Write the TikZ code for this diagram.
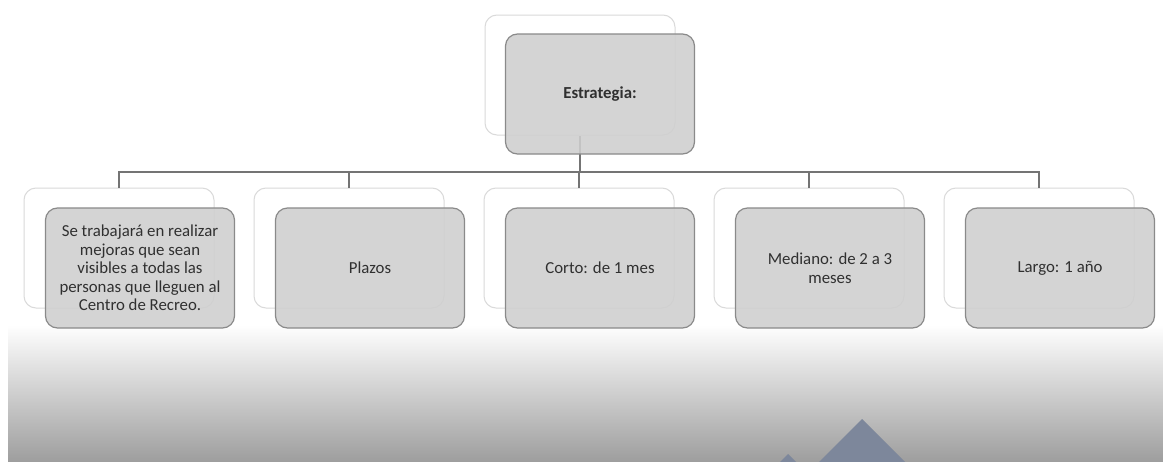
\documentclass[tikz,border=0pt]{standalone}
\usepackage{fontspec}
\setmainfont{Carlito}
\usetikzlibrary{shapes}

\definecolor{cardfill}{HTML}{CFCFCF}
\definecolor{carddraw}{HTML}{8A8A8A}
\definecolor{backdraw}{HTML}{DADADA}
\definecolor{textgray}{HTML}{303030}
\definecolor{linegray}{HTML}{747474}
\definecolor{pyramid}{HTML}{7D879B}

\begin{document}
\begin{tikzpicture}[x=1pt,y=-1pt,
    back/.style={rectangle,rounded corners=12pt,draw=backdraw,line width=1pt,fill=white,minimum width=190pt,minimum height=120pt},
    front/.style={rectangle,rounded corners=12pt,draw=carddraw,line width=1.2pt,fill=cardfill,fill opacity=0.88,text opacity=1,minimum width=189pt,minimum height=120pt,text=textgray,align=center,font=\fontsize{16.8}{18.5}\selectfont},
    conn/.style={draw=linegray,line width=1.6pt}]
  \useasboundingbox (0,0) rectangle (1163,461);
  \fill[white] (0,0) rectangle (1163,461);
  \shade[top color=white,bottom color=black!38] (8,325) rectangle (1163,461);
  % pyramids
  \fill[pyramid] (862,419) -- (905,462) -- (819,462) -- cycle;
  \fill[pyramid] (788,454) -- (796,462) -- (780,462) -- cycle;

  \node[back] (b0) at (580,75) {};
  \node[back] (b1) at (119,248) {};
  \node[back] (b2) at (349,248) {};
  \node[back] (b3) at (579,248) {};
  \node[back] (b4) at (809,248) {};
  \node[back] (b5) at (1039,248) {};

  \coordinate (bus) at (580,172);
  \draw[conn] (b0.south) -- (bus);
  \draw[conn] (bus) -| (b1.north);
  \draw[conn] (bus) -| (b2.north);
  \draw[conn] (bus) -| (b3.north);
  \draw[conn] (bus) -| (b4.north);
  \draw[conn] (bus) -| (b5.north);
  %\draw[conn] (b1.north) -- (b5.north);

  \node[front] (f0) at (600,94) {\textbf{Estrategia:}};
  \node[front] (f1) at (140,268) {Se trabajará en realizar\\mejoras que sean\\visibles a todas las\\personas que lleguen al\\Centro de Recreo.};
  \node[front] (f2) at (370,268) {Plazos};
  \node[front] (f3) at (600,268) {Corto: de 1 mes};
  \node[front] (f4) at (830,268) {Mediano: de 2 a 3\\meses};
  \node[front] (f5) at (1060,268) {Largo: 1 año};
\end{tikzpicture}
\end{document}
